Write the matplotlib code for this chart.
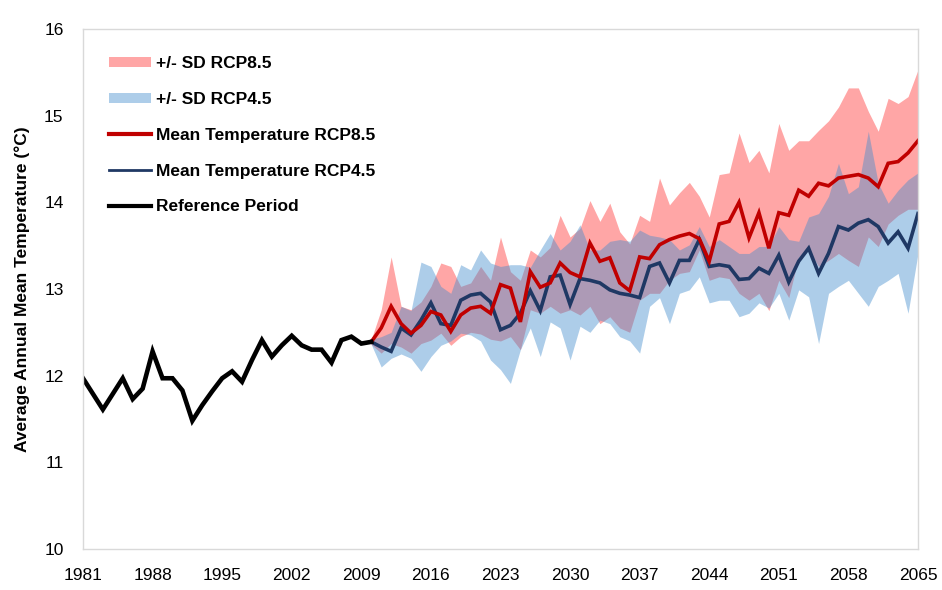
import numpy as np
import matplotlib
matplotlib.use("Agg")
import matplotlib.pyplot as plt
from matplotlib.patches import Patch
from matplotlib.lines import Line2D

plt.rcParams['font.family'] = ['Liberation Sans', 'DejaVu Sans']

# reference period 1981-2010
ref_years = list(range(1981, 2011))
ref_temp = [11.97, 11.79, 11.61, 11.79, 11.97, 11.73, 11.85, 12.28, 11.97, 11.97,
            11.83, 11.48, 11.66, 11.82, 11.97, 12.05, 11.93, 12.18, 12.41, 12.22,
            12.35, 12.46, 12.35, 12.30, 12.30, 12.15, 12.41, 12.45, 12.37, 12.39]

# projections 2010-2065
proj_years = list(range(2010, 2066))
mean85 = [12.39, 12.55, 12.80, 12.60, 12.49, 12.58, 12.74, 12.70, 12.51, 12.70,
          12.78, 12.80, 12.72, 13.05, 13.01, 12.62, 13.20, 13.02, 13.07, 13.30,
          13.19, 13.14, 13.53, 13.32, 13.36, 13.07, 12.98, 13.37, 13.35, 13.51,
          13.57, 13.61, 13.64, 13.58, 13.32, 13.75, 13.78, 14.00, 13.59, 13.88,
          13.47, 13.88, 13.85, 14.14, 14.07, 14.22, 14.19, 14.28, 14.30, 14.32,
          14.28, 14.18, 14.45, 14.47, 14.57, 14.71]
hi85 = [12.42, 12.76, 13.37, 12.80, 12.76, 12.85, 13.03, 13.30, 13.26, 13.03,
        13.07, 13.26, 13.10, 13.60, 13.20, 13.10, 13.45, 13.37, 13.48, 13.85,
        13.60, 13.70, 14.02, 13.78, 13.99, 13.66, 13.52, 13.85, 13.78, 14.28,
        13.97, 14.11, 14.23, 14.07, 13.83, 14.32, 14.34, 14.80, 14.46, 14.60,
        14.34, 14.91, 14.60, 14.71, 14.71, 14.83, 14.94, 15.10, 15.32, 15.32,
        15.05, 14.82, 15.20, 15.14, 15.22, 15.53]
lo85 = [12.36, 12.26, 12.37, 12.33, 12.26, 12.37, 12.41, 12.49, 12.35, 12.45,
        12.50, 12.48, 12.42, 12.40, 12.45, 12.30, 12.76, 12.72, 12.80, 12.72,
        12.76, 12.70, 12.80, 12.60, 12.68, 12.55, 12.50, 12.87, 12.95, 12.95,
        13.10, 13.18, 13.20, 13.45, 13.10, 13.14, 13.12, 12.95, 12.87, 12.95,
        12.75, 13.10, 12.90, 13.37, 13.45, 13.26, 13.33, 13.41, 13.33, 13.26,
        13.60, 13.49, 13.75, 13.85, 13.92, 13.92]
mean45 = [12.39, 12.33, 12.28, 12.55, 12.47, 12.64, 12.84, 12.60, 12.58, 12.87,
          12.93, 12.95, 12.85, 12.53, 12.58, 12.72, 12.98, 12.75, 13.14, 13.16,
          12.82, 13.12, 13.10, 13.07, 12.99, 12.95, 12.93, 12.90, 13.26, 13.30,
          13.07, 13.33, 13.33, 13.57, 13.26, 13.28, 13.26, 13.11, 13.12, 13.24,
          13.18, 13.39, 13.08, 13.32, 13.47, 13.18, 13.41, 13.72, 13.68, 13.76,
          13.80, 13.72, 13.53, 13.66, 13.47, 13.87]
hi45 = [12.42, 12.45, 12.50, 12.80, 12.75, 13.31, 13.26, 13.03, 12.95, 13.28,
        13.22, 13.45, 13.30, 13.26, 13.28, 13.28, 13.25, 13.45, 13.64, 13.45,
        13.55, 13.74, 13.45, 13.45, 13.55, 13.57, 13.55, 13.68, 13.62, 13.60,
        13.57, 13.45, 13.51, 13.72, 13.49, 13.57, 13.49, 13.41, 13.41, 13.49,
        13.49, 13.72, 13.57, 13.55, 13.83, 13.87, 14.07, 14.45, 14.10, 14.18,
        14.82, 14.22, 13.99, 14.14, 14.26, 14.34]
lo45 = [12.36, 12.10, 12.20, 12.25, 12.20, 12.05, 12.22, 12.35, 12.40, 12.49,
        12.47, 12.40, 12.18, 12.07, 11.91, 12.30, 12.55, 12.22, 12.62, 12.55,
        12.18, 12.57, 12.50, 12.64, 12.60, 12.45, 12.40, 12.26, 12.80, 12.90,
        12.60, 12.95, 12.99, 13.14, 12.84, 12.87, 12.87, 12.68, 12.72, 12.84,
        12.78, 12.95, 12.64, 12.99, 12.91, 12.37, 12.95, 13.03, 13.10, 12.95,
        12.80, 13.03, 13.10, 13.18, 12.72, 13.41]

x_ticks = list(range(1981, 2066, 7))

pink = ('#FF0000', 0.35)
blue = ('#428CCC', 0.43)
red_line = '#C00000'
navy_line = '#1F3864'

fig = plt.figure(figsize=(9.42, 5.90), dpi=100)
ax = fig.add_axes([0.0881, 0.0695, 0.8864, 0.8814])

# SD bands, then the means on top
ax.fill_between(proj_years, lo85, hi85, color=pink[0], alpha=pink[1], linewidth=0)
ax.fill_between(proj_years, lo45, hi45, color=blue[0], alpha=blue[1], linewidth=0)
ax.plot(proj_years, mean45, color=navy_line, lw=2.6, solid_joinstyle='miter')
ax.plot(proj_years, mean85, color=red_line, lw=2.6, solid_joinstyle='miter')
ax.plot(ref_years, ref_temp, color='black', lw=3.3, solid_joinstyle='miter')

ax.set_xlim(1981, 2065)
ax.set_ylim(10, 16)
ax.set_xticks(x_ticks)
ax.set_yticks(range(10, 17))
ax.tick_params(axis='both', length=0, labelsize=12.5)
ax.tick_params(axis='x', pad=14)
ax.tick_params(axis='y', pad=14)
for s in ax.spines.values():
    s.set_color('#D9D9D9')
    s.set_linewidth(1)

ax.set_ylabel('Average Annual Mean Temperature (\u00b0C)', fontsize=12.5,
              fontweight='bold', labelpad=10)

handles = [
    Patch(facecolor=pink[0], alpha=pink[1], edgecolor='none'),
    Patch(facecolor=blue[0], alpha=blue[1], edgecolor='none'),
    Line2D([], [], color=red_line, lw=3),
    Line2D([], [], color=navy_line, lw=2),
    Line2D([], [], color='black', lw=3),
]
labels = ['+/- SD RCP8.5', '+/- SD RCP4.5', 'Mean Temperature RCP8.5',
          'Mean Temperature RCP4.5', 'Reference Period']
ax.legend(handles, labels, loc='upper left', bbox_to_anchor=(0.013, 0.978),
          frameon=False, prop={'weight': 'bold', 'size': 12.5},
          handlelength=2.4, handleheight=0.5, handletextpad=0.3,
          labelspacing=1.2)

fig.savefig('out.png', dpi=100)
